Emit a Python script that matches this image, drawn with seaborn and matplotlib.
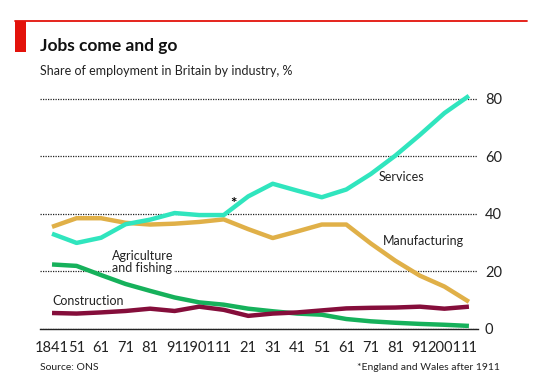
import matplotlib
matplotlib.use("Agg")
import matplotlib.pyplot as plt
from matplotlib.patches import Rectangle
from matplotlib.lines import Line2D
import pandas as pd
import seaborn as sns

# Census years (1941 estimated, no census that year)
YEARS = [1841, 1851, 1861, 1871, 1881, 1891, 1901, 1911, 1921,
         1931, 1941, 1951, 1961, 1971, 1981, 1991, 2001, 2011]
YEAR_LABELS = ["1841", "51", "61", "71", "81", "91", "1901", "11", "21",
               "31", "41", "51", "61", "71", "81", "91", "2001", "11"]

# Share of employment, %
SERVICES = [33.0, 29.8, 31.6, 36.3, 37.9, 40.2, 39.5, 39.5, 46.0,
            50.4, 48.0, 45.7, 48.4, 53.8, 60.2, 67.4, 75.0, 81.0]
MANUFACTURING = [35.4, 38.4, 38.4, 36.8, 36.2, 36.5, 37.1, 38.0, 34.6,
                 31.5, 33.8, 36.2, 36.2, 29.6, 23.6, 18.4, 14.6, 9.3]
AGRICULTURE = [22.3, 21.8, 18.6, 15.5, 13.1, 10.8, 9.1, 8.3, 6.9,
               6.0, 5.2, 4.8, 3.3, 2.5, 2.0, 1.6, 1.3, 0.9]
CONSTRUCTION = [5.4, 5.2, 5.6, 6.1, 6.9, 6.1, 7.6, 6.5, 4.4,
                5.2, 5.6, 6.3, 7.0, 7.2, 7.3, 7.6, 6.9, 7.6]

SERIES_ORDER = ["Agriculture and fishing", "Construction", "Manufacturing", "Services"]
PALETTE = {
    "Agriculture and fishing": "#16b15b",
    "Construction": "#850e3b",
    "Manufacturing": "#e0b048",
    "Services": "#30e5be",
}

df = pd.concat([
    pd.DataFrame({"year": YEARS, "share": AGRICULTURE, "industry": "Agriculture and fishing"}),
    pd.DataFrame({"year": YEARS, "share": CONSTRUCTION, "industry": "Construction"}),
    pd.DataFrame({"year": YEARS, "share": MANUFACTURING, "industry": "Manufacturing"}),
    pd.DataFrame({"year": YEARS, "share": SERVICES, "industry": "Services"}),
])

sns.set_style("white")
plt.rcParams["font.family"] = ["Lato", "DejaVu Sans"]
TXT = "#222222"
TICK_FONT = ["Liberation Sans Narrow", "Lato", "DejaVu Sans"]

W, H = 542, 388
fig = plt.figure(figsize=(W / 100, H / 100), dpi=100)
ax = fig.add_axes([40 / W, 1 - 328.5 / H, (478 - 40) / W, (328.5 - 93) / H])

sns.lineplot(
    data=df, x="year", y="share", hue="industry",
    hue_order=SERIES_ORDER, palette=PALETTE,
    linewidth=3.2, legend=False, ax=ax, zorder=3,
)
for line in ax.lines:
    line.set_solid_capstyle("butt")
    line.set_solid_joinstyle("round")

ax.set_xlim(1836.1, 2014.7)
ax.set_ylim(0, 82)
ax.set_xticks(YEARS)
ax.set_xticklabels(YEAR_LABELS, family=TICK_FONT)
ax.set_yticks([0, 20, 40, 60, 80])
ax.set_yticklabels(["0", "20", "40", "60", "80"], family=TICK_FONT)
ax.yaxis.tick_right()
ax.set_xlabel("")
ax.set_ylabel("")

ax.set_axisbelow(True)
ax.grid(axis="y", color="#222222", linestyle=(0, (1, 1)), linewidth=0.9)
ax.grid(axis="x", visible=False)
for side in ["top", "left", "right"]:
    ax.spines[side].set_visible(False)
ax.spines["bottom"].set_color("#222222")
ax.spines["bottom"].set_linewidth(1.0)

ax.tick_params(axis="x", direction="out", length=5, width=0.9, color="#222222",
               pad=4, labelsize=10.5, labelcolor=TXT)
ax.tick_params(axis="y", length=0, pad=5, labelsize=10.5, labelcolor=TXT)

# series labels
ax.text(1974.0, 52.8, "Services", fontsize=9, color=TXT, ha="left", va="center")
ax.text(1976.0, 30.4, "Manufacturing", fontsize=9, color=TXT, ha="left", va="center")
ax.text(1865.5, 23.2, "Agriculture\nand fishing", fontsize=9, color=TXT,
        ha="left", va="center", linespacing=1.05,
        bbox=dict(facecolor="white", edgecolor="none", pad=0.5), zorder=2)
ax.text(1841, 9.6, "Construction", fontsize=9, color=TXT, ha="left", va="center")
ax.text(1914.8, 43.2, "*", fontsize=11, fontweight="bold", color="black",
        ha="center", va="center")

# header decorations
fig.add_artist(Rectangle((15 / W, 1 - 52 / H), 11 / W, 31 / H,
                         transform=fig.transFigure, color="#e3120b", lw=0))
fig.add_artist(Line2D([15 / W, 527 / W], [1 - 20.8 / H, 1 - 20.8 / H],
                      transform=fig.transFigure, color="#e3120b", linewidth=1.3))

fig.text(40 / W, 1 - 46 / H, "Jobs come and go", fontsize=12.5, fontweight="bold",
         color="#111111", ha="left", va="center")
fig.text(40 / W, 1 - 71 / H, "Share of employment in Britain by industry, %",
         fontsize=9, color=TXT, ha="left", va="center")

fig.text(40 / W, 1 - 368 / H, "Source: ONS", fontsize=7.5, color=TXT,
         ha="left", va="center")
fig.text(500 / W, 1 - 368 / H, "*England and Wales after 1911", fontsize=7.5,
         color=TXT, ha="right", va="center")

fig.savefig("out.png", dpi=100)
